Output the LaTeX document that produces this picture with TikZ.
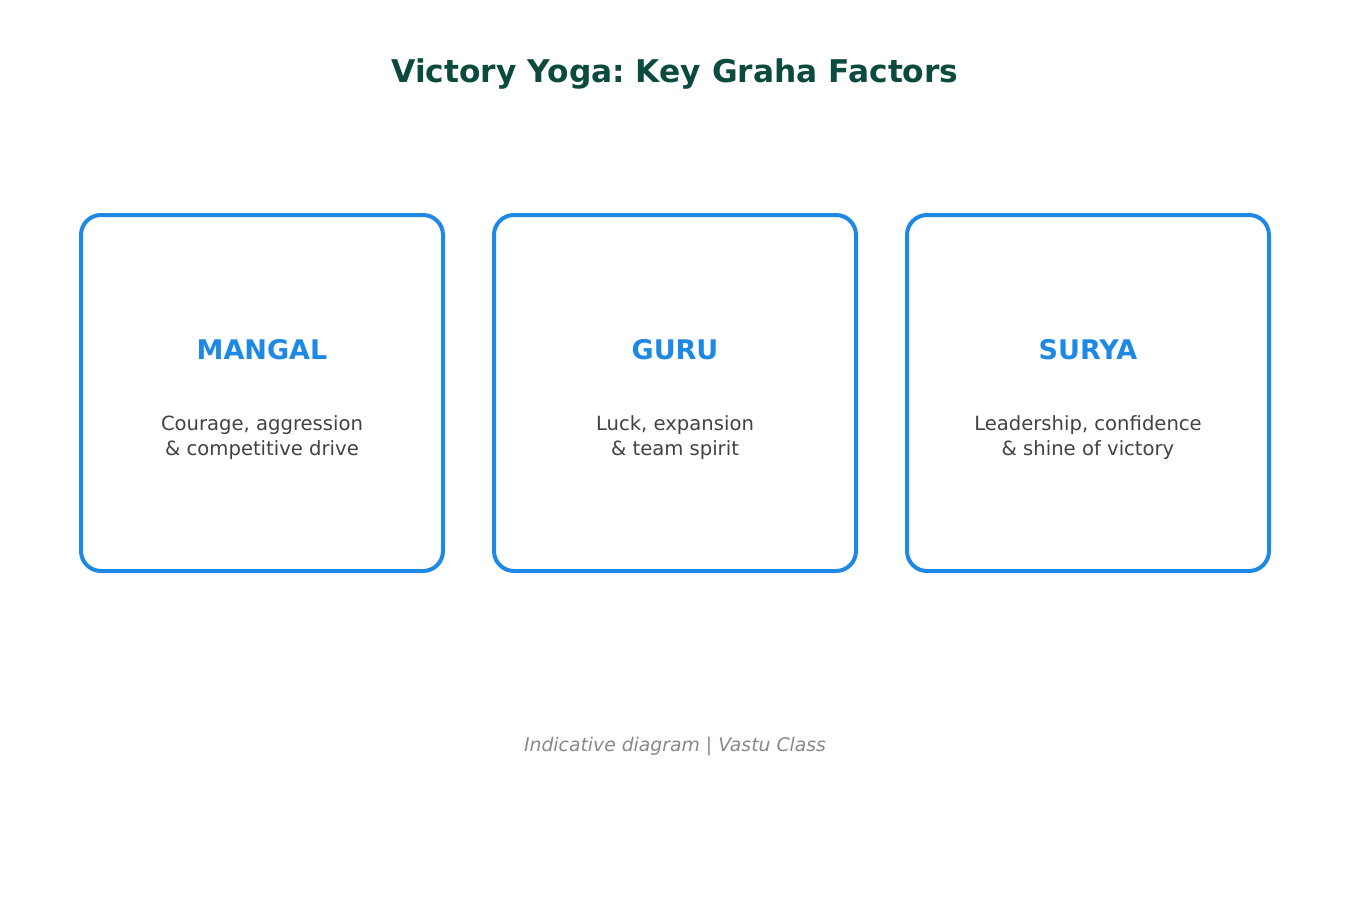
\documentclass[tikz,border=0pt]{standalone}
\usepackage{fontspec}
\setmainfont{DejaVu Sans}
\frenchspacing
\definecolor{titlecol}{HTML}{0B4A3E}
\definecolor{boxblue}{HTML}{1E88E5}
\definecolor{desccol}{HTML}{424242}
\definecolor{footcol}{HTML}{888888}
\tikzset{
  card/.style={draw=boxblue, line width=4pt, rounded corners=20pt, minimum width=362pt, minimum height=356pt, fill=white},
  cardtitle/.style={text=boxblue, font=\fontsize{27}{32}\selectfont\bfseries},
  carddesc/.style={text=desccol, align=center, font=\fontsize{19.6}{25}\selectfont},
  maintitle/.style={text=titlecol, font=\fontsize{31.3}{36}\selectfont\bfseries},
  footer/.style={text=footcol, font=\fontsize{18.8}{22}\selectfont\itshape}
}
\begin{document}
\begin{tikzpicture}[x=1pt,y=-1pt]
\useasboundingbox (0,0) rectangle (1350,900);
\node[maintitle] (title) at (675,74) {Victory Yoga: Key Graha Factors};
\node[card] (b1) at (262,393) {};
\node[card] (b2) at (675,393) {};
\node[card] (b3) at (1088,393) {};
\node[cardtitle] (t1) at (262,350) {MANGAL};
\node[cardtitle] (t2) at (675,350) {GURU};
\node[cardtitle] (t3) at (1088,350) {SURYA};
\node[carddesc] (d1) at (262,438) {Courage, aggression\\\& competitive drive};
\node[carddesc] (d2) at (675,438) {Luck, expansion\\\& team spirit};
\node[carddesc] (d3) at (1088,438) {Leadership, confidence\\\& shine of victory};
\node[footer] (foot) at (675,747) {Indicative diagram | Vastu Class};
\end{tikzpicture}
\end{document}
